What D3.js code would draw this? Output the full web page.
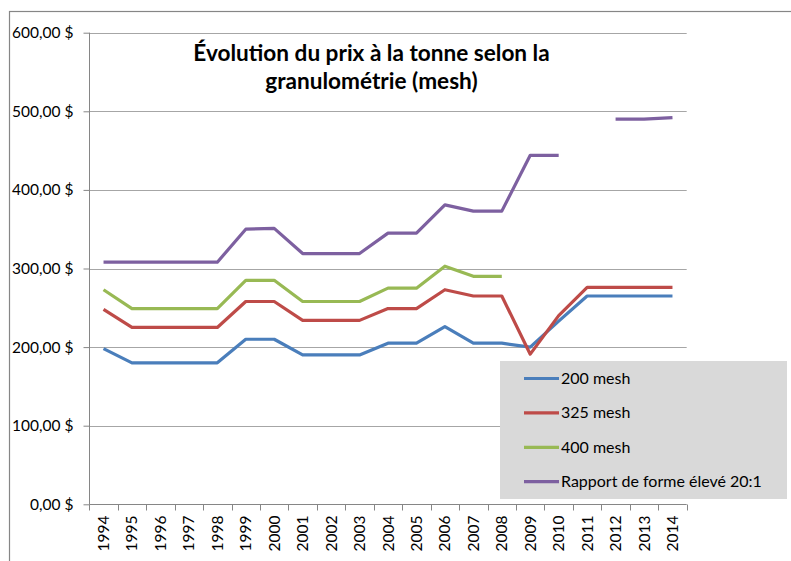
<!DOCTYPE html>
<html>
<head>
<meta charset="utf-8">
<script src="https://cdn.jsdelivr.net/npm/d3@7"></script>
<style>
  body { margin: 0; background: #fff; }
  text { font-family: Lato, "Liberation Sans", sans-serif; fill: #000; }
</style>
</head>
<body>
<script>
const years = ["1994","1995","1996","1997","1998","1999","2000","2001","2002","2003","2004",
               "2005","2006","2007","2008","2009","2010","2011","2012","2013","2014"];
const mesh200 = [198,180,180,180,180,210,210,190,190,190,205,205,226,205,205,200,233,265,265,265,265];
const mesh325 = [248,225,225,225,225,258,258,234,234,234,249,249,273,265,265,191,240,276,276,276,276];
const mesh400 = [273,249,249,249,249,285,285,258,258,258,275,275,303,290,290,null,null,null,null,null,null];
const rapport = [308,308,308,308,308,350,351,319,319,319,345,345,381,373,373,444,444,null,490,490,492];
const seriesNames = ["200 mesh", "325 mesh", "400 mesh", "Rapport de forme élevé 20:1"];
const colors = ["#4A7EBB", "#BE4B48", "#98B954", "#7D60A0"];
const yTicks = [0, 100, 200, 300, 400, 500, 600];

const w = 791, h = 561;
const plotLeft = 89.3, plotRight = 686.7, plotTop = 32.7, plotBottom = 504.3;

const svg = d3.select("body")
              .append("svg")
              .attr("width", w)
              .attr("height", h)

// outer chart border (runs past the window on the right and bottom)
svg.append("rect")
   .attr("x", 9.5)
   .attr("y", 11.5)
   .attr("width", 900)
   .attr("height", 700)
   .attr("fill", "#fff")
   .attr("stroke", "#868686")
   .attr("stroke-width", 1.2)

const x = d3.scaleBand()
            .domain(years)
            .range([plotLeft, plotRight])
const y = d3.scaleLinear()
            .domain([0, 600])
            .range([plotBottom, plotTop])

const fmt = d => d3.format(".2f")(d).replace(".", ",") + " $";

// gridlines
svg.append("g")
   .selectAll("line")
   .data(yTicks.slice(1))
   .enter()
   .append("line")
   .attr("x1", plotLeft)
   .attr("x2", plotRight)
   .attr("y1", d => Math.round(y(d)) + 0.5)
   .attr("y2", d => Math.round(y(d)) + 0.5)
   .attr("stroke", "#a6a6a6")
   .attr("stroke-width", 1)

// y axis
const yAxis = d3.axisLeft(y)
                .tickValues(yTicks)
                .tickSize(6)
                .tickPadding(10)
                .tickFormat(fmt)
svg.append("g")
   .attr("transform", "translate(" + (Math.round(plotLeft) + 0.5) + ",0)")
   .call(yAxis)
   .call(g => g.selectAll("line, path").attr("stroke", "#868686"))
   .call(g => g.select(".domain").attr("d", "M0," + plotTop + "V" + plotBottom))
   .call(g => g.selectAll("text").attr("font-size", 15.5).attr("font-family", "Lato").attr("fill", "#262626"))

// x axis
const axisY = Math.round(plotBottom) + 0.5;
const xg = svg.append("g")
svg.append("line")
   .attr("x1", plotLeft).attr("x2", plotRight)
   .attr("y1", axisY).attr("y2", axisY)
   .attr("stroke", "#868686")
xg.selectAll("line")
  .data(years.concat(["end"]))
  .enter()
  .append("line")
  .attr("x1", d => Math.round(d === "end" ? plotRight : x(d)) + 0.5)
  .attr("x2", d => Math.round(d === "end" ? plotRight : x(d)) + 0.5)
  .attr("y1", axisY)
  .attr("y2", axisY + 6)
  .attr("stroke", "#868686")
xg.selectAll("text")
  .data(years)
  .enter()
  .append("text")
  .attr("transform", d => "translate(" + (x(d) + x.bandwidth() / 2 + 5.5) + "," + (axisY + 11) + ") rotate(-90)")
  .attr("text-anchor", "end")
  .attr("font-size", 15.5)
  .attr("fill", "#262626")
  .text(d => d)

// lines
const line = d3.line()
               .defined(d => d != null)
               .x((d, i) => x(years[i]) + x.bandwidth() / 2)
               .y(d => y(d))
const allSeries = [mesh200, mesh325, mesh400, rapport];
svg.append("g")
   .selectAll("path")
   .data(allSeries)
   .enter()
   .append("path")
   .attr("d", d => line(d))
   .attr("fill", "none")
   .attr("stroke", (d, i) => colors[i])
   .attr("stroke-width", 3.2)
   .attr("stroke-linejoin", "round")

// title
const title = svg.append("text")
                 .attr("text-anchor", "middle")
                 .attr("font-weight", "bold")
                 .attr("font-size", 22.6)
title.append("tspan").attr("x", 371.5).attr("y", 61).text("Évolution du prix à la tonne selon la")
title.append("tspan").attr("x", 371.5).attr("y", 88.5).text("granulométrie (mesh)")

// legend
const legend = svg.append("g")
legend.append("rect")
      .attr("x", 500)
      .attr("y", 361)
      .attr("width", 287)
      .attr("height", 138)
      .attr("fill", "#d9d9d9")
const item = legend.selectAll("g")
                   .data(seriesNames)
                   .enter()
                   .append("g")
                   .attr("transform", (d, i) => "translate(0," + (378.5 + i * 34.4) + ")")
item.append("line")
    .attr("x1", 524).attr("x2", 559)
    .attr("stroke", (d, i) => colors[i])
    .attr("stroke-width", 3.2)
item.append("text")
    .attr("x", 561)
    .attr("y", 5.5)
    .attr("font-size", 16)
    .attr("fill", "#262626")
    .text(d => d)
</script>
</body>
</html>
